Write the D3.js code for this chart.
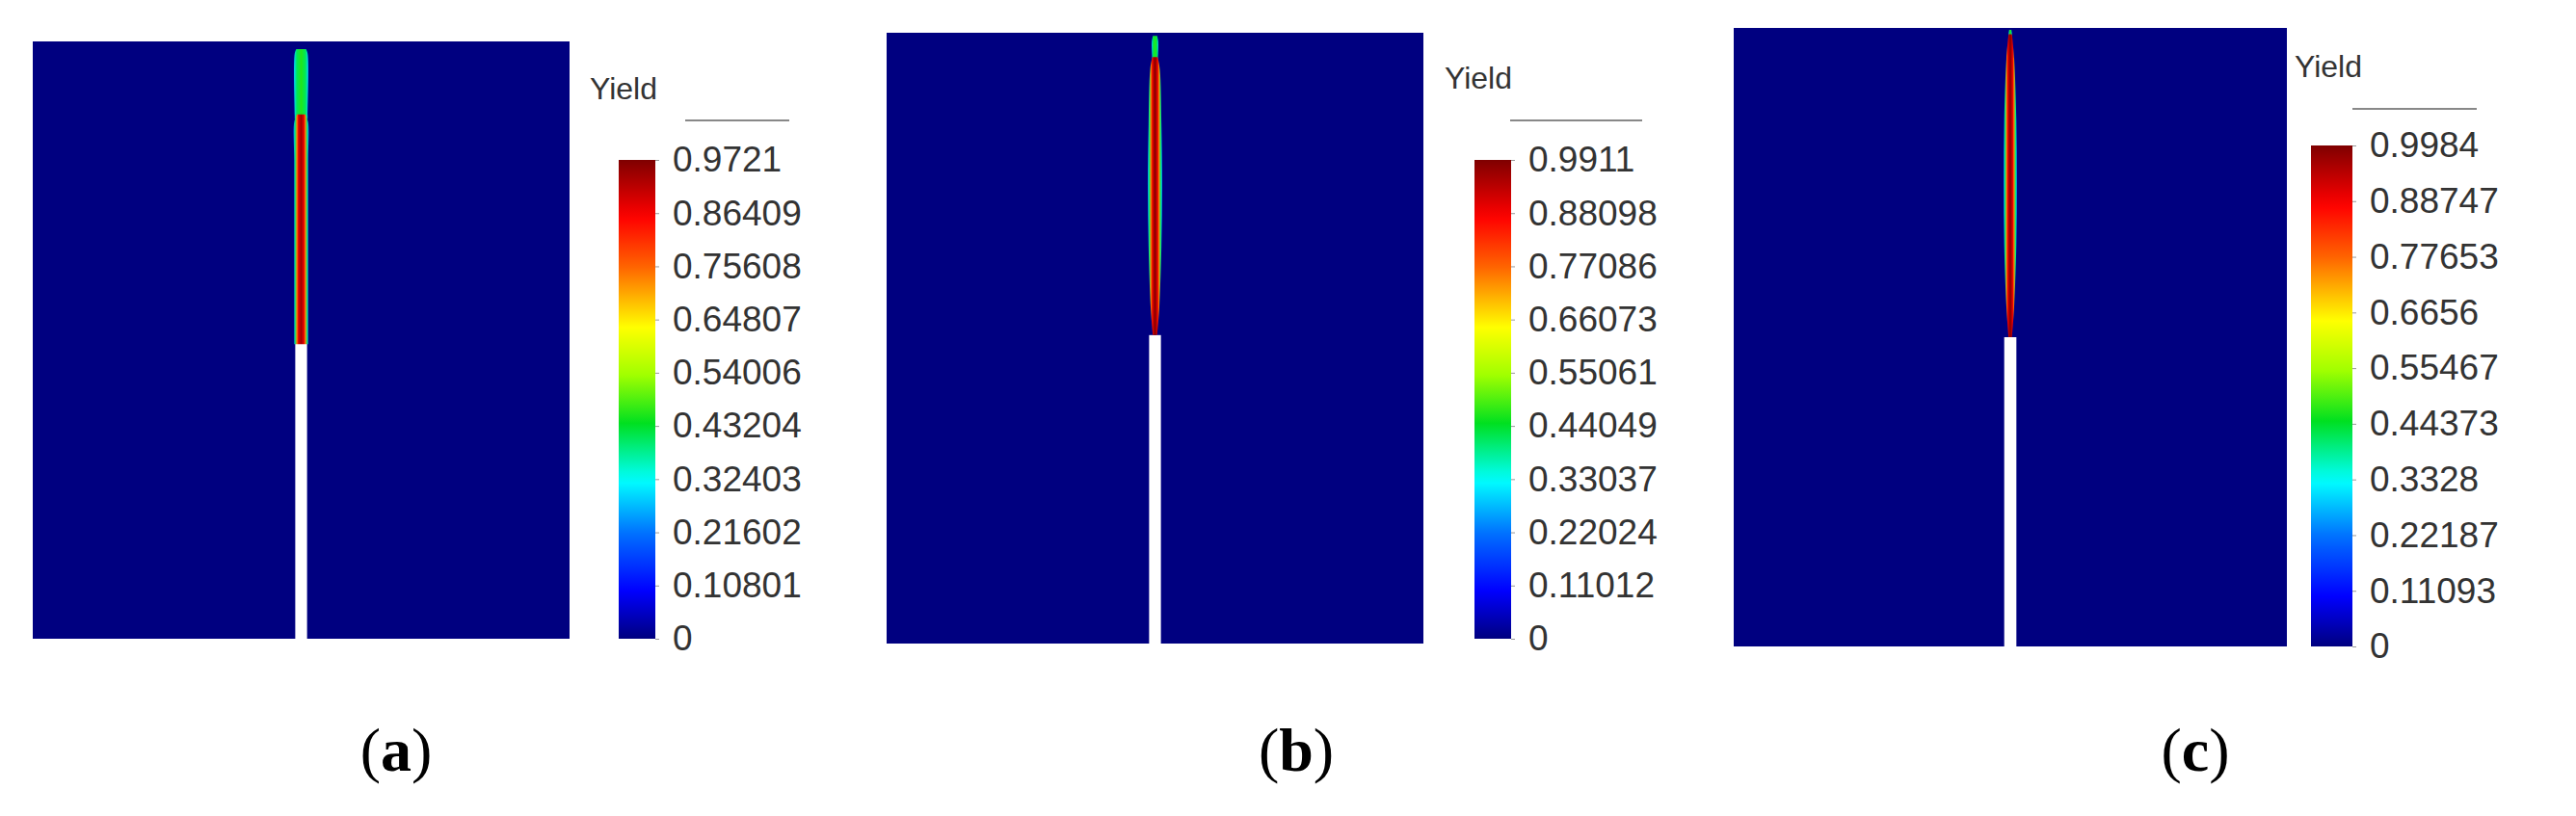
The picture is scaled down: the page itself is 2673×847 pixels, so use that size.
<!DOCTYPE html>
<html><head><meta charset="utf-8">
<script src="https://cdn.jsdelivr.net/npm/d3@7/dist/d3.min.js"></script>
<style>body{margin:0;background:#fff}svg{display:block}</style>
</head><body>
<svg id="c" width="2673" height="847"></svg>
<script>
const panelLetters = ["a","b","c"];
const maxValues = [0.9721, 0.9911, 0.9984];
const tickLabelsA = ["0.9721","0.86409","0.75608","0.64807","0.54006","0.43204","0.32403","0.21602","0.10801","0"];
const tickLabelsB = ["0.9911","0.88098","0.77086","0.66073","0.55061","0.44049","0.33037","0.22024","0.11012","0"];
const tickLabelsC = ["0.9984","0.88747","0.77653","0.6656","0.55467","0.44373","0.3328","0.22187","0.11093","0"];
const tickLabels = [tickLabelsA, tickLabelsB, tickLabelsC];
// crack tip depth (fraction of height from top) and crack half-width (fraction of width)
const crackTip = [0.505, 0.495, 0.5];
const crackHalfWidth = [0.011, 0.011, 0.011];
// yield zone profile: [depth fraction, half-width fraction]
const zoneA = [[0.122,0.008],[0.135,0.013],[0.2,0.013],[0.3,0.013],[0.4,0.013],[0.5,0.013],[0.507,0.013]];
const capA = [[0.013,0.009],[0.02,0.012],[0.124,0.012],[0.13,0.012]];
const zoneB = [[0.04,0.005],[0.06,0.009],[0.15,0.012],[0.25,0.0135],[0.35,0.012],[0.45,0.008],[0.495,0.004]];
const capB = [[0.005,0.004],[0.015,0.006],[0.045,0.005]];
const zoneC = [[0.01,0.003],[0.05,0.007],[0.15,0.011],[0.25,0.012],[0.35,0.011],[0.45,0.007],[0.5,0.003]];
const capC = [[0.003,0.002],[0.01,0.003],[0.02,0.002]];
const zones = [zoneA, zoneB, zoneC], caps = [capA, capB, capC];

const layout = [
 {x0:34,x1:591,y0:43,y1:663, cb:[642,680,166,663], yl:[612,103], ln:[711,819,125], lab:[411,800]},
 {x0:920,x1:1477,y0:34,y1:668, cb:[1530,1568,166,663], yl:[1499,92], ln:[1567,1704,125], lab:[1345,800]},
 {x0:1799,x1:2373,y0:29,y1:671, cb:[2398,2441,151,671], yl:[2381,80], ln:[2441,2570,113], lab:[2278,800]}
];
const jetDom = [0,0.1,0.22,0.33,0.45,0.55,0.65,0.78,0.88,1];
const jetCols = ["#00007f","#0000ff","#0070ff","#00ffff","#00e020","#a0ff00","#ffff00","#ff6000","#ff0000","#7f0000"];
const jet = d3.scaleLinear().domain(jetDom).range(jetCols).interpolate(d3.interpolateRgb);
const bg = "#000080";
const svg = d3.select("#c");
const defs = svg.append("defs");

const cg = defs.append("linearGradient").attr("id","cbar").attr("x1",0).attr("y1",1).attr("x2",0).attr("y2",0);
d3.range(0,1.0001,0.025).forEach(t=>cg.append("stop").attr("offset",t).attr("stop-color",jet(t)));

layout.forEach((L,i)=>{
  const g = svg.append("g");
  const x = d3.scaleLinear().domain([0,1]).range([L.x0,L.x1]);
  const y = d3.scaleLinear().domain([0,1]).range([L.y0,L.y1]);
  g.append("rect").attr("x",x(0)).attr("y",y(0)).attr("width",x(1)-x(0)).attr("height",y(1)-y(0)).attr("fill",bg);
  g.append("rect").attr("x",x(0.5-crackHalfWidth[i])).attr("y",y(crackTip[i])).attr("width",x(0.5+crackHalfWidth[i])-x(0.5-crackHalfWidth[i])).attr("height",y(1)-y(crackTip[i])+1).attr("fill","#fff");
  const mx = maxValues[i];
  const gz = defs.append("linearGradient").attr("id","zg"+i).attr("x1",0).attr("x2",1).attr("y1",0).attr("y2",0);
  [[0,0.25],[0.1,0.4],[0.22,0.75],[0.32,0.9],[0.5,mx],[0.68,0.9],[0.78,0.75],[0.9,0.4],[1,0.25]].forEach(s=>gz.append("stop").attr("offset",s[0]).attr("stop-color",jet(s[1])));
  const gc = defs.append("linearGradient").attr("id","zc"+i).attr("x1",0).attr("x2",1).attr("y1",0).attr("y2",0);
  [[0,0.3],[0.2,0.42],[0.5,0.47],[0.8,0.42],[1,0.3]].forEach(s=>gc.append("stop").attr("offset",s[0]).attr("stop-color",jet(s[1])));
  const area = d3.area().y(d=>y(d[0])).x0(d=>x(0.5-d[1])).x1(d=>x(0.5+d[1])).curve(d3.curveCatmullRom);
  g.append("path").attr("d",area(caps[i])).attr("fill","url(#zc"+i+")");
  g.append("path").attr("d",area(zones[i])).attr("fill","url(#zg"+i+")");
  const [cx0,cx1,cy0,cy1] = L.cb;
  g.append("rect").attr("x",cx0).attr("y",cy0).attr("width",cx1-cx0).attr("height",cy1-cy0).attr("fill","url(#cbar)");
  const cs = d3.scalePoint().domain(tickLabels[i]).range([cy0,cy1]);
  const ax = g.append("g").attr("transform",`translate(${cx1},0)`).call(d3.axisRight(cs).tickSize(4).tickPadding(14));
  ax.select(".domain").remove();
  ax.selectAll("line").attr("stroke","#999");
  ax.selectAll("text").attr("font-family","Liberation Sans, Arial, sans-serif").attr("font-size",37).attr("fill","#333");
  g.append("text").attr("x",L.yl[0]).attr("y",L.yl[1]).attr("font-family","Liberation Sans, Arial, sans-serif").attr("font-size",32).attr("fill","#333").text("Yield");
  g.append("line").attr("x1",L.ln[0]).attr("x2",L.ln[1]).attr("y1",L.ln[2]).attr("y2",L.ln[2]).attr("stroke","#888").attr("stroke-width",2);
  const t = g.append("text").attr("x",L.lab[0]).attr("y",L.lab[1]).attr("text-anchor","middle").attr("font-family","Liberation Serif, Times New Roman, serif").attr("font-size",64).attr("fill","#000");
  t.append("tspan").text("(");
  t.append("tspan").attr("font-weight","bold").text(panelLetters[i]);
  t.append("tspan").text(")");
});
</script>
</body></html>
